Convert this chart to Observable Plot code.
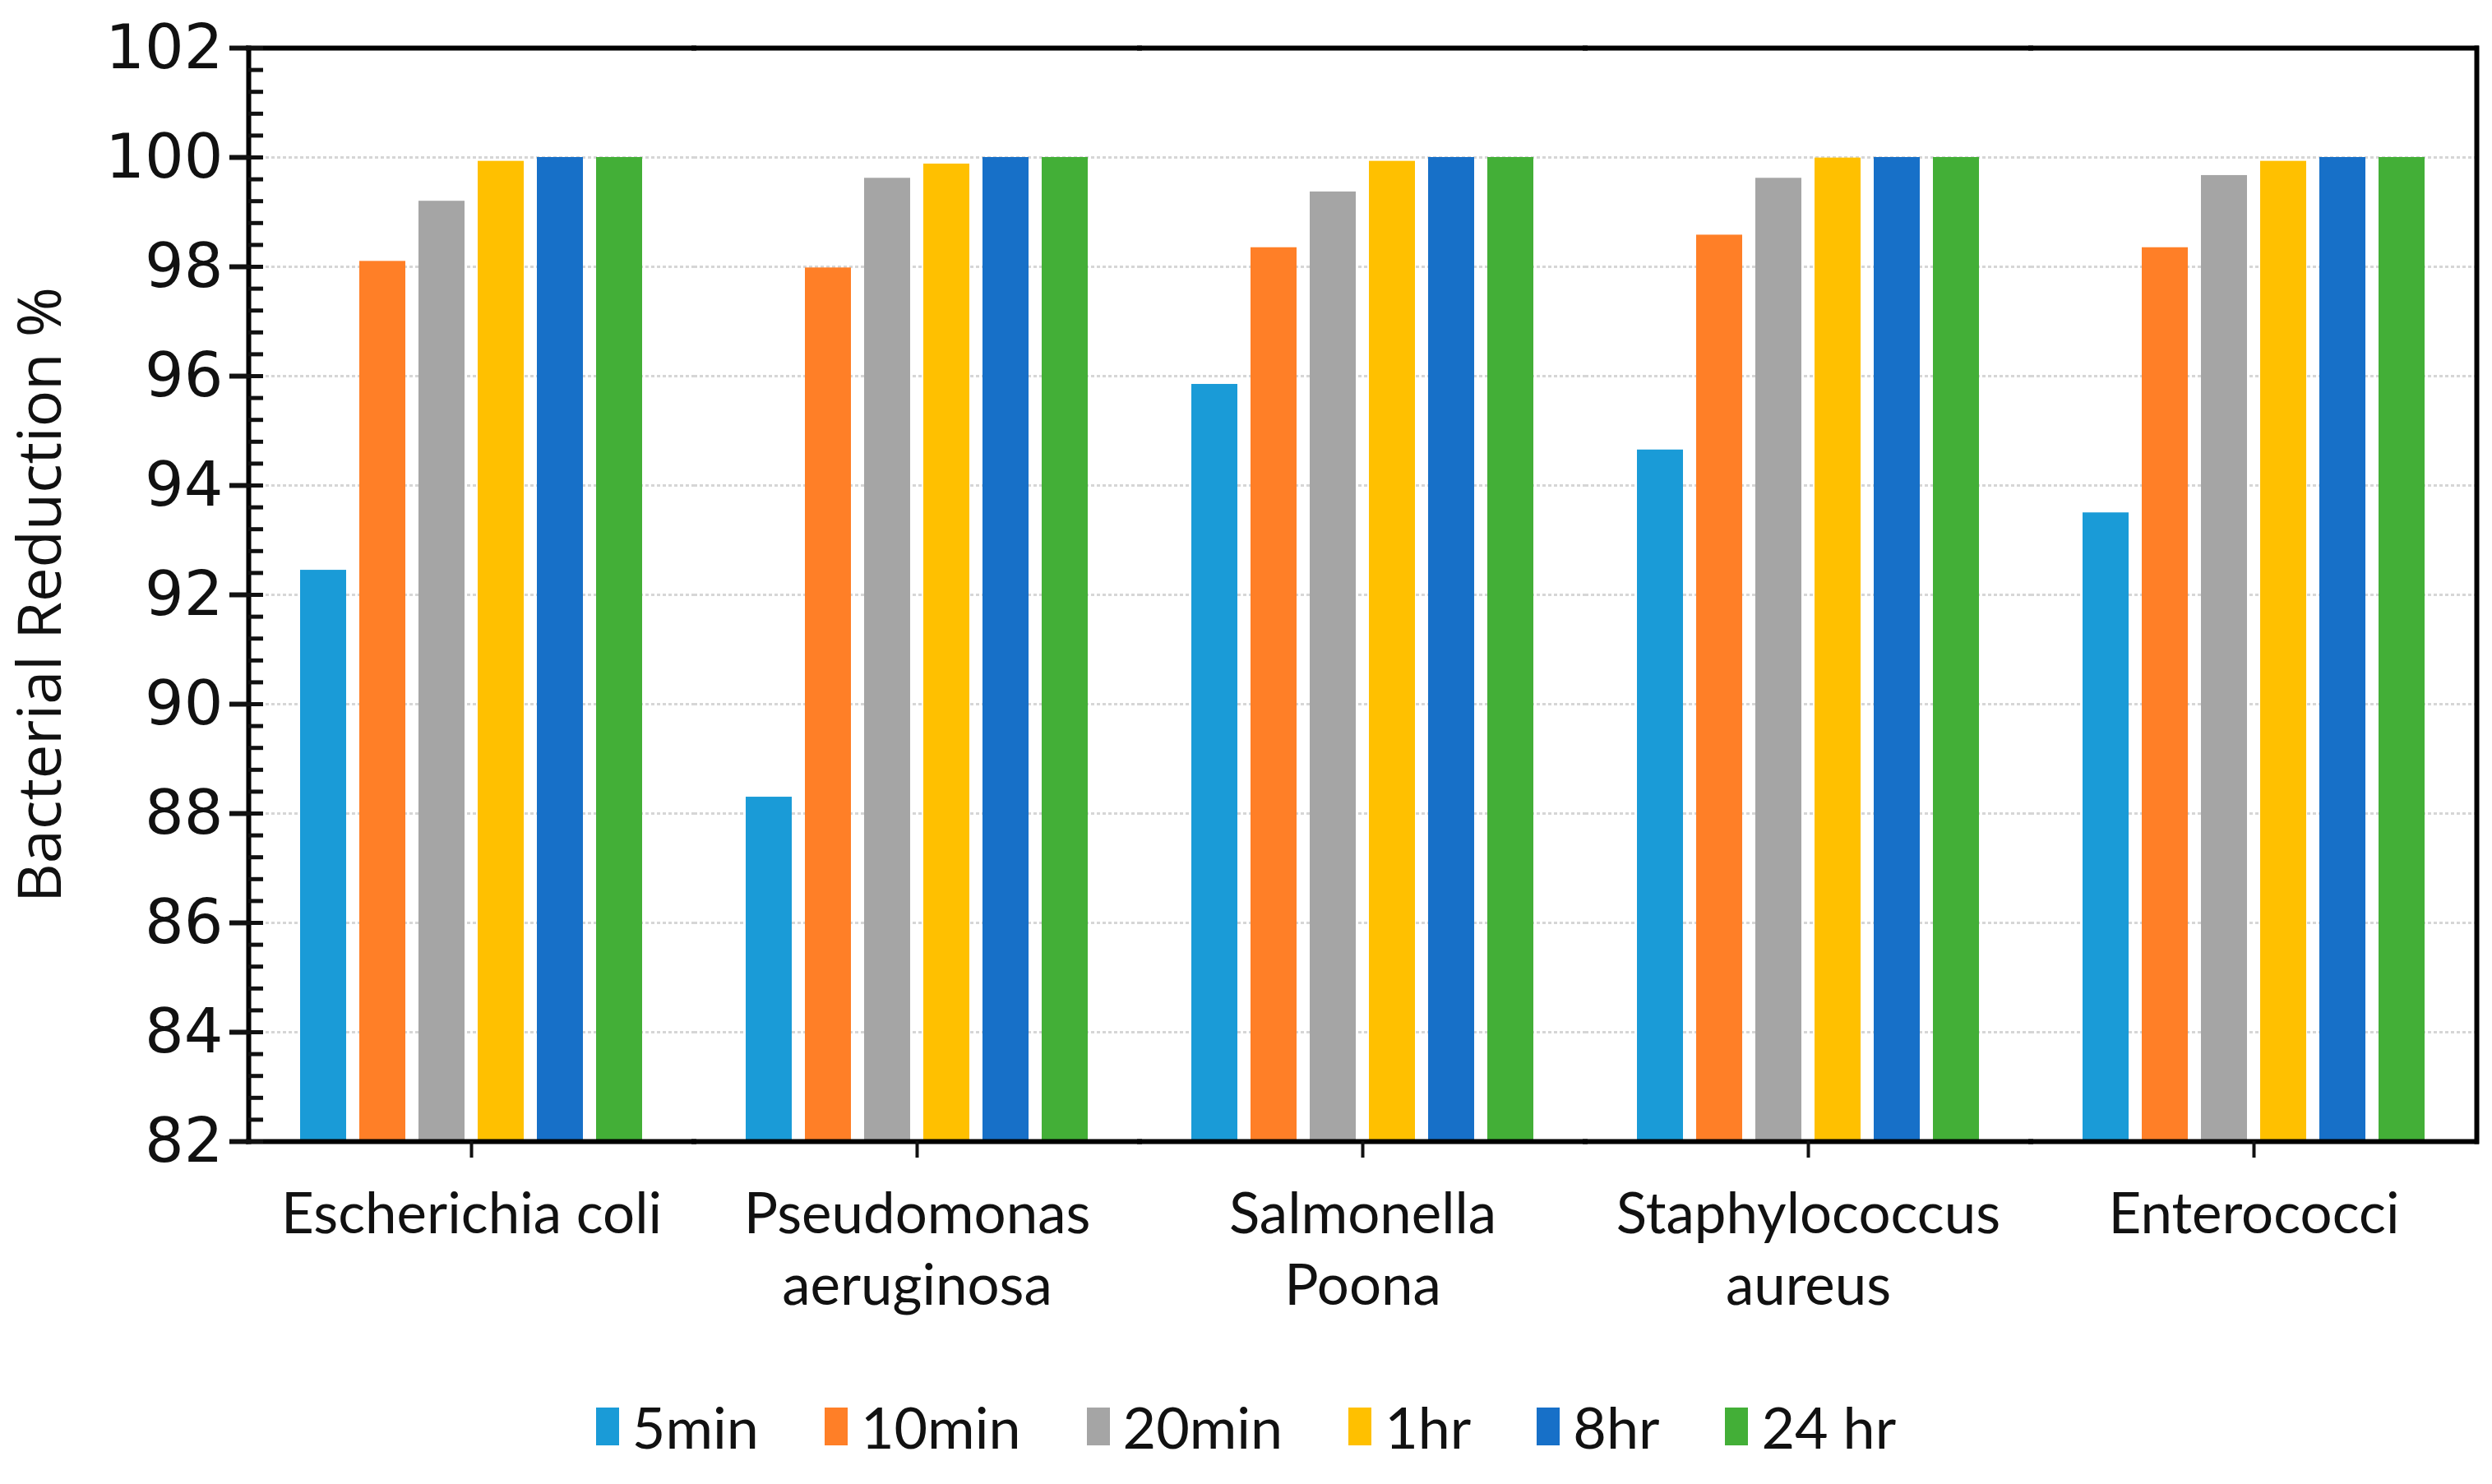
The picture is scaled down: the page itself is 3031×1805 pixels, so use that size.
<!DOCTYPE html>
<html><head><meta charset="utf-8">
<script src="https://cdn.jsdelivr.net/npm/d3@7"></script>
<script src="https://cdn.jsdelivr.net/npm/@observablehq/plot@0.6"></script>
<style>
html,body{margin:0;padding:0;background:#fff;}
#chart{width:3031px;}
.legend{display:flex;justify-content:center;align-items:center;gap:80px;font-family:Lato,sans-serif;font-size:70px;color:#111;height:90px;margin-top:30px;}
.item{display:flex;align-items:center;}
.sw{width:28px;height:46px;margin-right:16px;}
</style></head><body><div id="chart"></div>
<script>
const categories = ["Escherichia coli","Pseudomonas aeruginosa","Salmonella Poona","Staphylococcus aureus","Enterococci"];
const categoryLabels = ["Escherichia coli","Pseudomonas\naeruginosa","Salmonella\nPoona","Staphylococcus\naureus","Enterococci"];
const series = ["5min","10min","20min","1hr","8hr","24 hr"];
const colors = ["#1A9BD7","#FF7F27","#A5A5A5","#FFC000","#1770C8","#43AF37"];
const v5min  = [92.45, 88.3, 95.85, 94.65, 93.5];
const v10min = [98.1, 97.98, 98.35, 98.58, 98.35];
const v20min = [99.2, 99.62, 99.37, 99.62, 99.67];
const v1hr   = [99.93, 99.88, 99.93, 99.99, 99.93];
const v8hr   = [100, 100, 100, 100, 100];
const v24hr  = [100, 100, 100, 100, 100];
const yTicks = [82, 84, 86, 88, 90, 92, 94, 96, 98, 100, 102];
const gridTicks = [84, 86, 88, 90, 92, 94, 96, 98, 100];
const yTitle = "Bacterial Reduction %";

const seriesValues = [v5min, v10min, v20min, v1hr, v8hr, v24hr];
const table = categories.flatMap((c, i) => series.map((s, j) => ({category: c, series: s, value: seriesValues[j][i]})));
const labelOf = new Map(categories.map((c, i) => [c, categoryLabels[i]]));
const minorTicks = d3.range(0, 51).map(k => +(yTicks[0] + k * 0.4).toFixed(1));

const W = 3031, H = 1660;
const chart = Plot.plot({
  width: W, height: H,
  marginLeft: 301, marginRight: 18, marginTop: 58, marginBottom: H - 1388,
  style: {background: "white", fontFamily: "Open Sans", color: "#111", overflow: "visible"},
  fx: {domain: categories, padding: 0},
  x: {domain: series, paddingInner: 0.228, paddingOuter: 0.859, axis: null},
  y: {domain: [yTicks[0], yTicks[yTicks.length - 1]]},
  color: {domain: series, range: colors},
  marks: [
    Plot.ruleY(gridTicks, {stroke: "#d6d6d6", strokeWidth: 3, strokeDasharray: "4,3"}),
    Plot.barY(table, {fx: "category", x: "series", y1: yTicks[0], y2: "value", fill: "series"}),
    Plot.ruleY([yTicks[0], yTicks[yTicks.length - 1]], {stroke: "black", strokeWidth: 6, strokeLinecap: "square"}),
    Plot.frame({anchor: "left", facetAnchor: "left", stroke: "black", strokeWidth: 6}),
    Plot.frame({anchor: "right", facetAnchor: "right", stroke: "black", strokeWidth: 6}),
    Plot.axisY({ticks: yTicks, tickSize: 23, tickPadding: 8, strokeWidth: 6, fontSize: 75, fontFamily: "DejaVu Sans", label: null, tickFormat: d => String(d)}),
    Plot.axisY({ticks: minorTicks, tickSize: -18, text: null, label: null, strokeWidth: 5}),
    Plot.axisFx({anchor: "bottom", tickSize: 20, tickPadding: 29, strokeWidth: 4, fontSize: 69, fontFamily: "Lato", lineHeight: 1.27, label: null, tickFormat: d => labelOf.get(d)}),
    Plot.text([yTitle], {frameAnchor: "left", facetAnchor: "left", textAnchor: "middle", rotate: -90, dx: -252, fontSize: 74, fontFamily: "Open Sans", fill: "#111"})
  ]
});
document.getElementById("chart").appendChild(chart);

const legend = document.createElement("div");
legend.className = "legend";
series.forEach((s, j) => {
  const it = document.createElement("div");
  it.className = "item";
  const sw = document.createElement("span");
  sw.className = "sw";
  sw.style.background = colors[j];
  const t = document.createElement("span");
  t.textContent = s;
  it.appendChild(sw); it.appendChild(t);
  legend.appendChild(it);
});
document.getElementById("chart").appendChild(legend);
</script></body></html>
